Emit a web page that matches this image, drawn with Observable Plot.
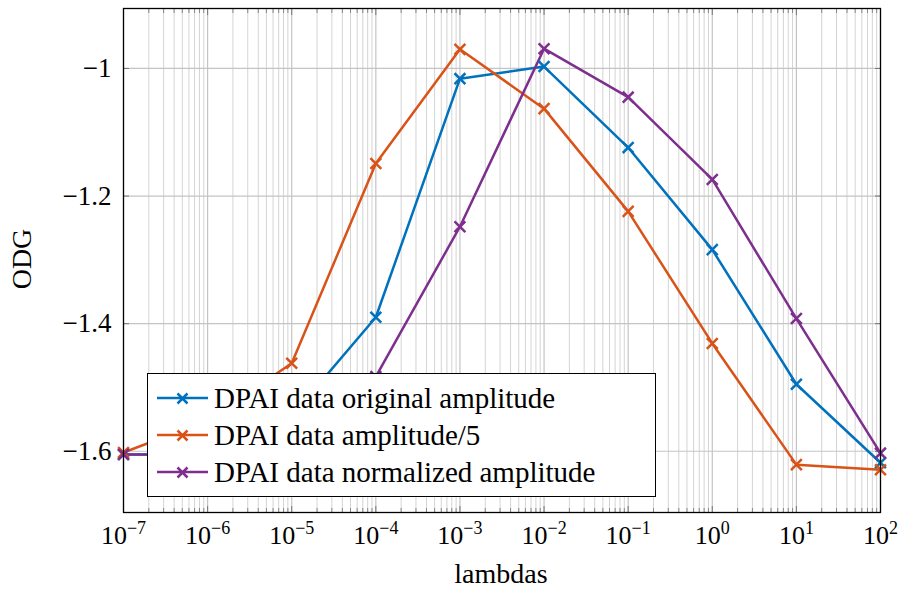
<!DOCTYPE html>
<html><head><meta charset="utf-8">
<script src="https://cdn.jsdelivr.net/npm/d3@7"></script>
<script src="https://cdn.jsdelivr.net/npm/@observablehq/plot@0.6"></script>
<style>
body{margin:0;background:#fff;}
#wrap{position:relative;width:901px;height:590px;font-family:"Liberation Serif","DejaVu Serif","Times New Roman",Times,serif;}
#legend{position:absolute;left:147px;top:373px;width:509px;height:124px;border:1.3px solid #000;background:#fff;box-sizing:border-box;}
#legend .row{position:absolute;left:0;height:30px;display:flex;align-items:center;font-size:29px;color:#000;white-space:nowrap;}
#legend svg{margin-left:9px;margin-right:6px;}
.lab{position:absolute;font-size:28px;color:#000;}
</style></head><body>
<div id="wrap"></div>
<script>
const lambdas = [1e-7, 1e-6, 1e-5, 1e-4, 1e-3, 1e-2, 1e-1, 1, 10, 100];
const odgOriginal = [-1.605, -1.605, -1.545, -1.390, -1.016, -0.997, -1.124, -1.284, -1.495, -1.618];
const odgAmp5 = [-1.602, -1.552, -1.462, -1.149, -0.970, -1.063, -1.224, -1.431, -1.621, -1.629];
const odgNorm = [-1.605, -1.605, -1.590, -1.483, -1.248, -0.969, -1.045, -1.174, -1.392, -1.603];
const seriesNames = ["DPAI data original amplitude", "DPAI data amplitude/5", "DPAI data normalized amplitude"];
const seriesColors = ["#0072BD", "#D95319", "#7E2F8E"];
const yTicks = [-1.6, -1.4, -1.2, -1];
const xMajor = [1e-7, 1e-6, 1e-5, 1e-4, 1e-3, 1e-2, 1e-1, 1, 10, 100];
const xExponents = [-7, -6, -5, -4, -3, -2, -1, 0, 1, 2];

const FONT = "'Liberation Serif', 'DejaVu Serif', 'Times New Roman', Times, serif";
const seriesValues = [odgOriginal, odgAmp5, odgNorm];
const data = seriesNames.flatMap((name, s) => lambdas.map((x, i) => ({x, y: seriesValues[s][i], name})));
const xMinor = [];
xExponents.slice(0, -1).forEach(e => { for (let k = 2; k <= 9; k++) xMinor.push(k * Math.pow(10, e)); });

const supFmt = d => "10^" + String(Math.round(Math.log10(d))).replace("-", "−");
const yFmt = d => d === -1 ? "−1" : "−" + Math.abs(d).toFixed(1);

const chart = Plot.plot({
  width: 901, height: 590,
  marginLeft: 123, marginRight: 21, marginTop: 8, marginBottom: 78,
  style: {fontFamily: FONT, fontSize: "26px", background: "white", color: "black"},
  x: {type: "log", domain: [1e-7, 100], label: null},
  y: {domain: [-1.696, -0.906], label: null},
  color: {domain: seriesNames, range: seriesColors},
  marks: [
    Plot.gridX(xMinor, {stroke: "#d4d4d4", strokeOpacity: 1, strokeWidth: 1}),
    Plot.gridX(xMajor, {stroke: "#c4c4c4", strokeOpacity: 1, strokeWidth: 1.2}),
    Plot.gridY(yTicks, {stroke: "#c4c4c4", strokeOpacity: 1, strokeWidth: 1.2}),
    Plot.axisX(xMinor, {anchor: "bottom", tickSize: -4, tickFormat: () => "", label: null, stroke: "#888"}),
    Plot.axisX(xMinor, {anchor: "top", tickSize: -4, tickFormat: () => "", label: null, stroke: "#888"}),
    Plot.axisX(xMajor, {anchor: "bottom", tickSize: -6, tickFormat: () => "", label: null, stroke: "#777"}),
    Plot.axisX(xMajor, {anchor: "top", tickSize: -6, tickFormat: () => "", label: null, stroke: "#777"}),
    Plot.axisX(xMajor, {anchor: "bottom", tickSize: 0, tickPadding: 13, tickFormat: supFmt, label: null, fontSize: 26}),
    Plot.axisY(yTicks, {anchor: "left", tickSize: -6, tickPadding: 18, tickFormat: yFmt, label: null, stroke: "#777", fontSize: 27}),
    Plot.axisY(yTicks, {anchor: "right", tickSize: -6, tickFormat: () => "", label: null, stroke: "#777"}),
    Plot.line(data, {x: "x", y: "y", z: "name", stroke: "name", strokeWidth: 2.5}),
    Plot.dot(data, {x: "x", y: "y", stroke: "name", symbol: "times", r: 5, strokeWidth: 2.5}),
    Plot.frame({stroke: "#000", strokeWidth: 1.3})
  ]
});

chart.querySelectorAll("text").forEach(t => {
  const s = t.textContent;
  if (/^10\^/.test(s)) {
    const exp = s.slice(3);
    t.textContent = "";
    const a = document.createElementNS("http://www.w3.org/2000/svg", "tspan");
    a.textContent = "10";
    const b = document.createElementNS("http://www.w3.org/2000/svg", "tspan");
    b.textContent = exp;
    b.setAttribute("font-size", "18");
    b.setAttribute("dy", "-10");
    t.appendChild(a); t.appendChild(b);
  }
});

const wrap = document.getElementById("wrap");
wrap.appendChild(chart);

const xl = document.createElement("div");
xl.className = "lab"; xl.textContent = "lambdas";
xl.style.left = "0px"; xl.style.width = "1002px"; xl.style.textAlign = "center"; xl.style.top = "558px";
wrap.appendChild(xl);
const yl = document.createElement("div");
yl.className = "lab"; yl.textContent = "ODG";
yl.style.left = "-28px"; yl.style.top = "243px"; yl.style.width = "100px"; yl.style.textAlign = "center";
yl.style.transform = "rotate(-90deg)";
wrap.appendChild(yl);

const legend = document.createElement("div");
legend.id = "legend";
seriesNames.forEach((name, i) => {
  const row = document.createElement("div");
  row.className = "row";
  row.style.top = (9 + i * 37) + "px";
  row.innerHTML = `<svg width="51" height="20"><line x1="0" y1="10" x2="51" y2="10" stroke="${seriesColors[i]}" stroke-width="2.5"/>` +
    `<path d="M20.5,5.5L30.5,15.5M20.5,15.5L30.5,5.5" stroke="${seriesColors[i]}" stroke-width="2.5"/></svg><span>${name}</span>`;
  legend.appendChild(row);
});
wrap.appendChild(legend);
</script>
</body></html>
